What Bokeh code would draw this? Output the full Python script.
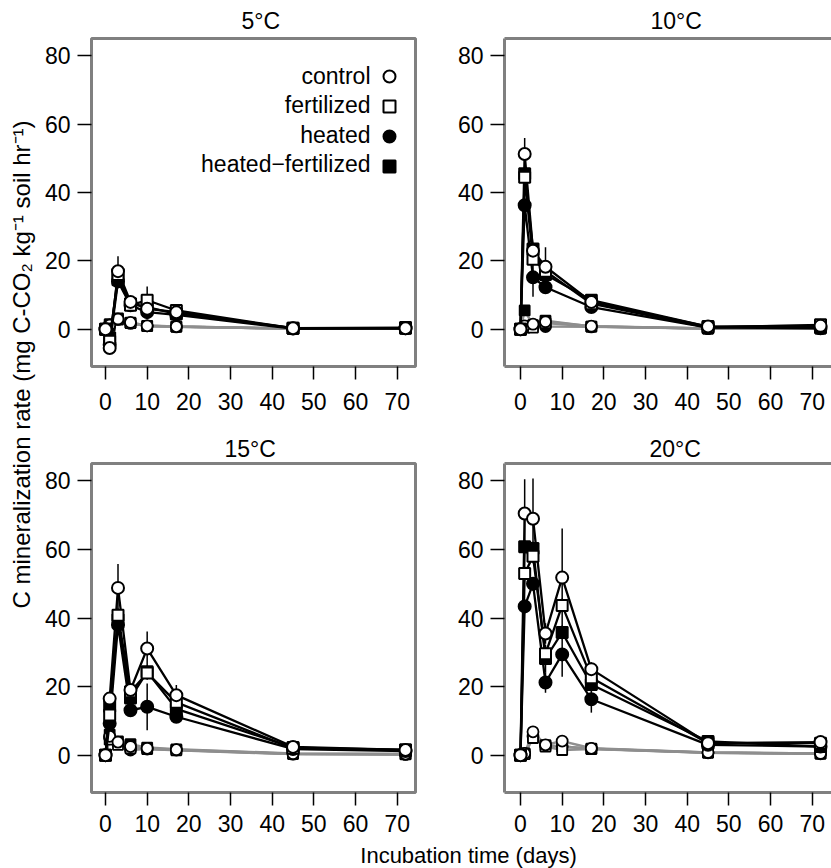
from bokeh.plotting import figure
from bokeh.models import ColumnDataSource, FixedTicker, Label, Legend, LegendItem, Range1d, LinearAxis
from bokeh.layouts import row, column
from bokeh.embed import file_html
from bokeh.resources import INLINE

FONT = "Liberation Sans"

# ---------------- data ----------------
treatments = ["control", "fertilized", "heated", "heated\u2212fertilized"]
panel_titles = ["5\u00b0C", "10\u00b0C", "15\u00b0C", "20\u00b0C"]
x_ticks = [0, 10, 20, 30, 40, 50, 60, 70]
y_ticks = [0, 20, 40, 60, 80]

# incubation days per panel
days_5 = [0, 1, 3, 6, 10, 17, 45, 72]
days_10 = [0, 1, 3, 6, 17, 45, 72]
days_15 = [0, 1, 3, 6, 10, 17, 45, 72]
days_20 = [0, 1, 3, 6, 10, 17, 45, 72]

# 5 C, black series
control_5 = [0, -5.5, 17.0, 8.0, 6.0, 5.0, 0.3, 0.3]
fertilized_5 = [0, -3.5, 16.0, 7.0, 8.5, 5.5, 0.3, 0.5]
heated_5 = [0, -4.5, 14.0, 7.0, 5.0, 4.2, 0.2, 0.3]
heatfert_5 = [0, -2.5, 14.5, 7.5, 6.5, 4.5, 0.3, 0.3]
control_5_se = [0, 1.0, 4.4, 1.0, 1.0, 1.0, 0.2, 0.2]
fertilized_5_se = [0, 1.0, 1.0, 1.0, 4.0, 1.0, 0.2, 0.2]
heated_5_se = [0, 1.0, 1.0, 1.0, 1.0, 1.0, 0.2, 0.2]
heatfert_5_se = [0, 1.0, 1.0, 1.0, 1.0, 1.0, 0.2, 0.2]
# 5 C, grey series
control_5_g = [0, 1.2, 3.0, 2.0, 1.0, 0.8, 0.2, 0.2]
fertilized_5_g = [0, 1.0, 2.8, 1.8, 0.9, 0.7, 0.2, 0.2]
heated_5_g = [0, 1.3, 2.9, 1.7, 1.0, 0.7, 0.2, 0.2]
heatfert_5_g = [0, 1.5, 3.2, 1.9, 1.0, 0.8, 0.2, 0.3]

# 10 C, black series
control_10 = [0, 51.3, 23.0, 18.3, 8.0, 0.8, 1.0]
fertilized_10 = [0, 44.5, 20.5, 17.0, 7.5, 0.5, 1.3]
heated_10 = [0, 36.3, 15.2, 12.3, 6.5, 0.5, 0.3]
heatfert_10 = [0, 45.5, 23.5, 16.0, 8.5, 0.8, 0.5]
control_10_se = [0, 4.7, 1.0, 5.7, 1.0, 0.3, 0.3]
fertilized_10_se = [0, 1.5, 1.5, 1.5, 1.0, 0.3, 0.3]
heated_10_se = [0, 1.5, 5.7, 1.5, 1.0, 0.3, 0.3]
heatfert_10_se = [0, 1.5, 1.5, 1.5, 1.5, 0.3, 0.3]
# 10 C, grey series
control_10_g = [0, 1.0, 1.5, 2.2, 0.9, 0.2, 0.2]
fertilized_10_g = [0, 0.5, 0.5, 1.8, 0.8, 0.2, 0.2]
heated_10_g = [0, 0.8, 1.0, 0.8, 0.7, 0.2, 0.2]
heatfert_10_g = [0, 5.5, 1.2, 2.5, 0.8, 0.2, 0.2]

# 15 C, black series
control_15 = [0, 16.5, 48.8, 19.0, 31.1, 17.5, 2.4, 1.5]
fertilized_15 = [0, 11.7, 40.8, 18.5, 24.0, 15.4, 2.0, 1.5]
heated_15 = [0, 9.2, 38.0, 13.1, 14.1, 11.2, 1.8, 1.2]
heatfert_15 = [0, 14.2, 39.5, 16.7, 24.3, 13.5, 2.2, 1.5]
control_15_se = [0, 1.5, 7.0, 1.5, 5.0, 3.0, 0.5, 0.3]
fertilized_15_se = [0, 1.5, 2.0, 1.5, 2.0, 1.5, 0.3, 0.3]
heated_15_se = [0, 1.5, 2.0, 1.5, 6.8, 1.0, 0.3, 0.3]
heatfert_15_se = [0, 1.5, 2.0, 1.5, 2.0, 1.5, 0.3, 0.3]
# 15 C, grey series
control_15_g = [0, 5.5, 3.8, 2.5, 2.0, 1.6, 0.4, 0.3]
fertilized_15_g = [0, 4.5, 3.0, 2.0, 1.8, 1.4, 0.3, 0.2]
heated_15_g = [0, 5.0, 3.5, 1.5, 1.8, 1.5, 0.3, 0.2]
heatfert_15_g = [0, 6.0, 4.0, 3.2, 2.2, 1.7, 0.5, 0.3]

# 20 C, black series
control_20 = [0, 70.5, 69.0, 35.5, 51.8, 25.1, 3.5, 3.8]
fertilized_20 = [0, 53.0, 58.0, 29.6, 43.7, 22.6, 3.5, 3.5]
heated_20 = [0, 43.4, 50.0, 21.2, 29.4, 16.3, 3.0, 2.5]
heatfert_20 = [0, 60.8, 60.3, 28.2, 35.8, 20.6, 4.0, 2.5]
control_20_se = [0, 10.0, 11.7, 3.0, 14.3, 2.0, 0.5, 0.5]
fertilized_20_se = [0, 2.0, 2.0, 2.0, 2.0, 2.0, 0.5, 0.5]
heated_20_se = [0, 2.0, 2.0, 3.0, 6.5, 3.9, 0.5, 0.5]
heatfert_20_se = [0, 2.0, 2.0, 4.0, 2.0, 2.0, 0.5, 0.5]
# 20 C, grey series
control_20_g = [0, 0.5, 6.8, 3.0, 4.1, 2.0, 0.8, 0.5]
fertilized_20_g = [0, 0.3, 5.0, 2.5, 1.5, 1.8, 0.7, 0.4]
heated_20_g = [0, 0.4, 5.5, 2.8, 2.5, 1.9, 0.7, 0.4]
heatfert_20_g = [0, 0.5, 5.4, 2.9, 2.5, 1.9, 0.8, 0.5]

panels = [
    (days_5, [control_5, fertilized_5, heated_5, heatfert_5],
     [control_5_se, fertilized_5_se, heated_5_se, heatfert_5_se],
     [control_5_g, fertilized_5_g, heated_5_g, heatfert_5_g]),
    (days_10, [control_10, fertilized_10, heated_10, heatfert_10],
     [control_10_se, fertilized_10_se, heated_10_se, heatfert_10_se],
     [control_10_g, fertilized_10_g, heated_10_g, heatfert_10_g]),
    (days_15, [control_15, fertilized_15, heated_15, heatfert_15],
     [control_15_se, fertilized_15_se, heated_15_se, heatfert_15_se],
     [control_15_g, fertilized_15_g, heated_15_g, heatfert_15_g]),
    (days_20, [control_20, fertilized_20, heated_20, heatfert_20],
     [control_20_se, fertilized_20_se, heated_20_se, heatfert_20_se],
     [control_20_g, fertilized_20_g, heated_20_g, heatfert_20_g]),
]

# ---------------- styles ----------------
markers = ["circle", "square", "circle", "square"]
fills = ["white", "white", "black", "black"]
sizes = [12, 11, 12, 11]
draw_order = [3, 2, 1, 0]
GREY = "#8e8e8e"
FRAME = "#808080"
Y_RANGE = (-10.9, 85.1)
PX_PER_DAY = 4.167

# geometry: (width, height, border l, r, t, b, x start, title offset, title standoff,
#            x label standoff, cut at right)
geom = [
    (384, 421, 50, 10, 37, 55, -3.36, 150, 10, 13, False),
    (406, 421, 79, 0, 37, 55, -3.84, 146, 10, 13, True),
    (384, 421, 50, 10, 42, 50, -3.36, 133, 3, 9, False),
    (406, 421, 79, 0, 42, 50, -3.84, 145, 3, 9, True),
]


def style_axis(ax, ticks, tlen, stand):
    ax.ticker = FixedTicker(ticks=ticks)
    ax.axis_line_color = None
    ax.major_tick_in = 0
    ax.major_tick_out = tlen
    ax.major_tick_line_width = 1.5
    ax.major_tick_line_color = "black"
    ax.minor_tick_line_color = None
    ax.major_label_text_font = FONT
    ax.major_label_text_font_size = "23px"
    ax.major_label_text_color = "black"
    ax.major_label_standoff = stand


def make_panel(i):
    days, black, errs, grey = panels[i]
    w, h, bl, br, bt, bb, x0, toff, tstand, xstand, cut = geom[i]
    fw = w - bl - br
    p = figure(width=w, height=h, output_backend="svg", toolbar_location=None,
               x_range=Range1d(x0, x0 + fw / PX_PER_DAY), y_range=Range1d(*Y_RANGE),
               min_border_left=bl, min_border_right=br, min_border_top=bt, min_border_bottom=bb)
    p.title.text = panel_titles[i]
    p.title.align = "left"
    p.title.offset = toff
    p.title.standoff = tstand
    p.title.text_font = FONT
    p.title.text_font_size = "23px"
    p.title.text_font_style = "normal"
    p.title.text_color = "black"
    p.xgrid.visible = False
    p.ygrid.visible = False
    p.background_fill_color = "white"
    p.border_fill_color = "white"
    style_axis(p.xaxis[0], x_ticks, 13, xstand)
    style_axis(p.yaxis[0], y_ticks, 14, 7)
    if cut:
        # the frame runs past the page edge: draw only its left, bottom and top sides
        p.outline_line_color = None
        for ax in (p.xaxis[0], p.yaxis[0]):
            ax.axis_line_color = FRAME
            ax.axis_line_width = 3
        top = LinearAxis(ticker=FixedTicker(ticks=[]), major_tick_out=0, major_tick_in=0,
                         major_label_standoff=0, minor_tick_line_color=None,
                         axis_line_color=FRAME, axis_line_width=3)
        p.add_layout(top, "above")
    else:
        p.outline_line_color = FRAME
        p.outline_line_width = 3

    # grey series
    for k in draw_order:
        src = ColumnDataSource(dict(x=days, y=grey[k]))
        p.line("x", "y", source=src, line_color=GREY, line_width=2.5)
    for k in draw_order:
        src = ColumnDataSource(dict(x=days, y=grey[k]))
        p.scatter("x", "y", source=src, marker=markers[k], size=sizes[k] - 1,
                  fill_color=fills[k], line_color="black", line_width=1.8)
    # error bars
    for k in draw_order:
        lo = [v - e for v, e in zip(black[k], errs[k])]
        hi = [v + e for v, e in zip(black[k], errs[k])]
        src = ColumnDataSource(dict(x=days, lo=lo, hi=hi))
        p.segment(x0="x", y0="lo", x1="x", y1="hi", source=src, line_color="black", line_width=1.5)
    # black series
    for k in draw_order:
        src = ColumnDataSource(dict(x=days, y=black[k]))
        p.line("x", "y", source=src, line_color="black", line_width=2.3)
    rends = {}
    for k in draw_order:
        src = ColumnDataSource(dict(x=days, y=black[k]))
        rends[k] = p.scatter("x", "y", source=src, marker=markers[k], size=sizes[k],
                             fill_color=fills[k], line_color="black", line_width=2)
    if i == 0:
        # legend keys (markers) on the right, texts right-aligned to their left
        items = [LegendItem(label=" ", renderers=[rends[k]]) for k in range(4)]
        leg = Legend(items=items, location=(283, 185), glyph_width=30, glyph_height=30,
                     label_height=20, spacing=0, padding=0, margin=0, label_standoff=0,
                     label_width=1, label_text_font=FONT, label_text_font_size="10px",
                     border_line_color=None, background_fill_alpha=0)
        p.add_layout(leg)
        for k in range(4):
            p.add_layout(Label(x=279, y=291 - 29.5 * k, x_units="screen", y_units="screen",
                               text=treatments[k], text_align="right", text_baseline="middle",
                               text_font=FONT, text_font_size="23px", text_color="black"))
    return p


figs = [make_panel(i) for i in range(4)]

# shared y label
ylab = figure(width=41, height=842, output_backend="svg", toolbar_location=None,
              x_range=Range1d(0, 41), y_range=Range1d(0, 842), min_border=0,
              x_axis_location=None, y_axis_location=None)
ylab.outline_line_color = None
ylab.xgrid.visible = False
ylab.ygrid.visible = False
ylab.add_layout(Label(x=21, y=478, text="C mineralization rate (mg C-CO\u2082 kg\u207b\u00b9 soil hr\u207b\u00b9)",
                      angle=1.5707963, text_align="center", text_baseline="middle",
                      text_font=FONT, text_font_size="24px", text_color="black"))

# shared x label
xlab = figure(width=831, height=26, output_backend="svg", toolbar_location=None,
              x_range=Range1d(0, 831), y_range=Range1d(0, 26), min_border=0,
              x_axis_location=None, y_axis_location=None)
xlab.outline_line_color = None
xlab.xgrid.visible = False
xlab.ygrid.visible = False
xlab.add_layout(Label(x=468, y=13, text="Incubation time (days)", text_align="center",
                      text_baseline="middle", text_font=FONT, text_font_size="22px",
                      text_color="black"))

layout = column(row(ylab, column(row(figs[0], figs[1]), row(figs[2], figs[3]))), xlab)

open("out.html", "w").write(file_html(layout, INLINE))
